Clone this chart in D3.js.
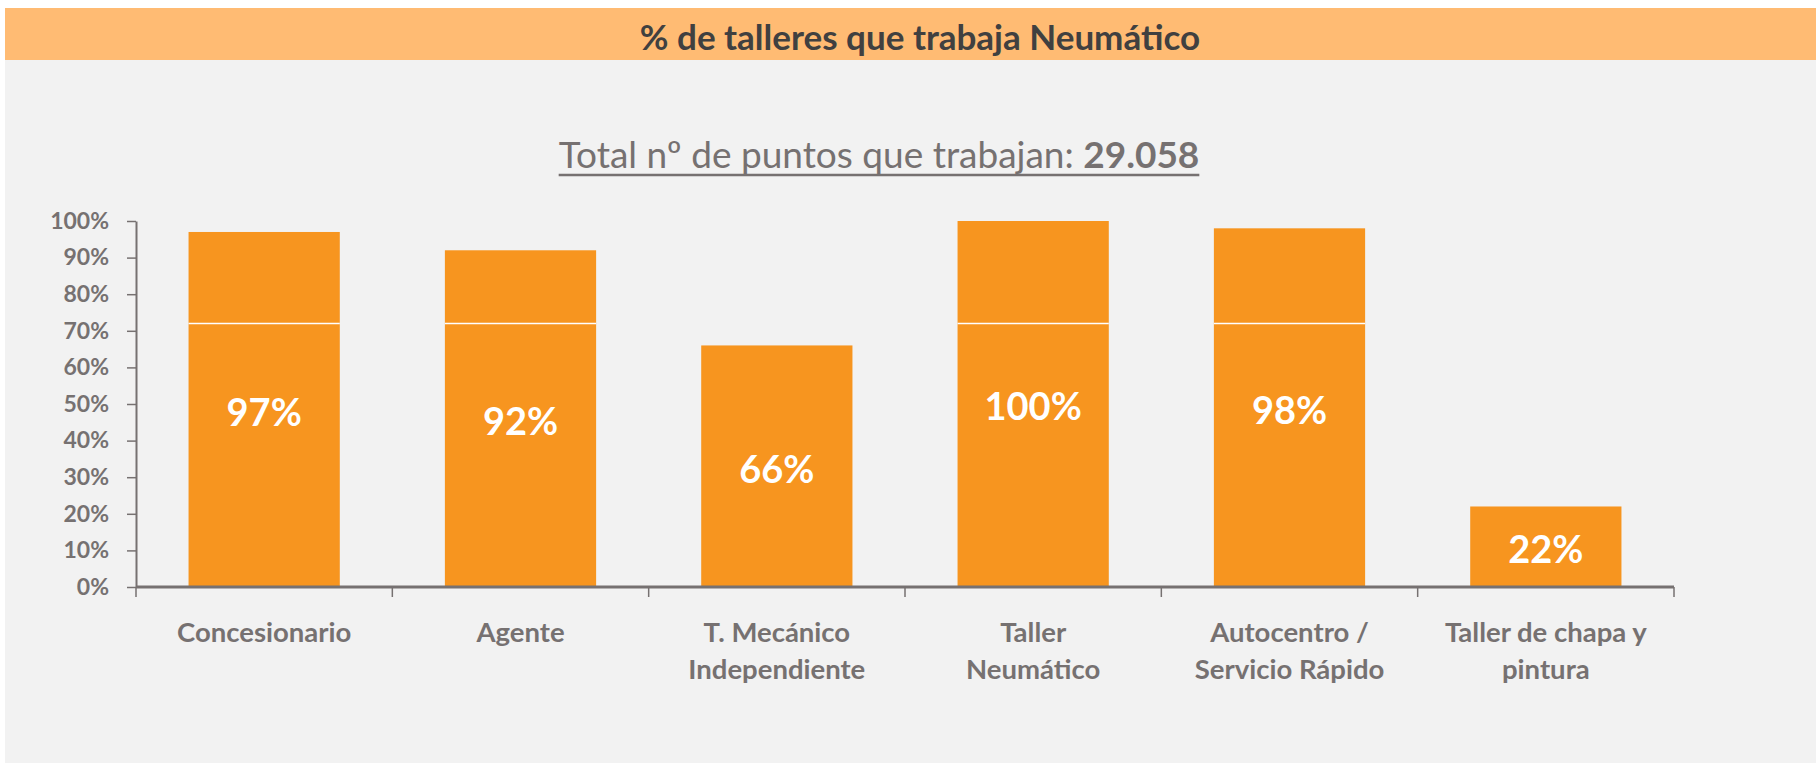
<!DOCTYPE html>
<html>
<head>
<meta charset="utf-8">
<script src="https://cdn.jsdelivr.net/npm/d3@7"></script>
<style>
  html, body { margin: 0; padding: 0; background: #ffffff; }
  svg { display: block; }
</style>
</head>
<body>
<svg id="chart" width="1816" height="763"></svg>
<script>
// data
var categories = ['Concesionario', 'Agente', 'T. Mecánico Independiente', 'Taller Neumático', 'Autocentro / Servicio Rápido', 'Taller de chapa y pintura'];
var categoryLines = [['Concesionario'], ['Agente'], ['T. Mecánico', 'Independiente'], ['Taller', 'Neumático'], ['Autocentro /', 'Servicio Rápido'], ['Taller de chapa y', 'pintura']];
var values = [97, 92, 66, 100, 98, 22];
var yTicks = [0, 10, 20, 30, 40, 50, 60, 70, 80, 90, 100];
var splitLevel = 72;
var title = '% de talleres que trabaja Neumático';
var subtitleText = 'Total nº de puntos que trabajan: ';
var subtitleNumber = '29.058';

var font = 'Lato, "Open Sans", sans-serif';
var grey = '#767171';
var orange = '#F7951F';

var svg = d3.select('#chart');

// panel + header band
svg.append('rect')
  .attr('x', 5).attr('y', 60).attr('width', 1811).attr('height', 703)
  .attr('fill', '#F2F2F2');
svg.append('rect')
  .attr('x', 5).attr('y', 8).attr('width', 1811).attr('height', 52)
  .attr('fill', '#FFBB73');

svg.append('text')
  .attr('x', 920).attr('y', 50)
  .attr('text-anchor', 'middle')
  .attr('font-family', font)
  .attr('font-weight', 'bold')
  .attr('font-size', 35)
  .attr('fill', '#404040')
  .text(title);

// subtitle with underline
var sub = svg.append('text')
  .attr('x', 879).attr('y', 168)
  .attr('text-anchor', 'middle')
  .attr('font-family', font)
  .attr('font-size', 37)
  .attr('fill', grey);
sub.append('tspan').text(subtitleText);
sub.append('tspan').attr('font-weight', 'bold').text(subtitleNumber);
var sb = sub.node().getBBox();
svg.append('line')
  .attr('x1', sb.x).attr('x2', sb.x + sb.width)
  .attr('y1', 175).attr('y2', 175)
  .attr('stroke', grey).attr('stroke-width', 2.5);

// scales
var x = d3.scaleBand().domain(categories).range([136, 1674]).padding(0);
var y = d3.scaleLinear().domain([0, 100]).range([587, 221]);
var barW = x.bandwidth() * 0.59;

// y axis
var yAxis = svg.append('g')
  .attr('transform', 'translate(136,0)')
  .call(d3.axisLeft(y).tickValues(yTicks).tickFormat(function (d) { return d + '%'; })
    .tickSize(9).tickSizeOuter(0).tickPadding(18));
yAxis.select('.domain').attr('stroke', grey).attr('stroke-width', 2);
yAxis.selectAll('.tick line').attr('stroke', grey).attr('stroke-width', 1.5);
yAxis.selectAll('.tick text')
  .attr('font-family', font).attr('font-weight', 'bold').attr('font-size', 23)
  .attr('fill', grey);

// bars
var bars = svg.append('g');
bars.selectAll('rect')
  .data(values)
  .join('rect')
  .attr('x', function (d, i) { return x(categories[i]) + (x.bandwidth() - barW) / 2; })
  .attr('y', function (d) { return y(d); })
  .attr('width', barW)
  .attr('height', function (d) { return y(0) - y(d); })
  .attr('fill', orange);

// white split line inside tall bars
bars.selectAll('line')
  .data(values.map(function (d, i) { return { v: d, c: categories[i] }; }).filter(function (d) { return d.v > splitLevel; }))
  .join('line')
  .attr('x1', function (d) { return x(d.c) + (x.bandwidth() - barW) / 2; })
  .attr('x2', function (d) { return x(d.c) + (x.bandwidth() + barW) / 2; })
  .attr('y1', y(splitLevel)).attr('y2', y(splitLevel))
  .attr('stroke', '#ffffff').attr('stroke-width', 1.5);

// value labels
bars.selectAll('text')
  .data(values)
  .join('text')
  .attr('x', function (d, i) { return x(categories[i]) + x.bandwidth() / 2; })
  .attr('y', function (d) { return y(d / 2) + 3; })
  .attr('dy', '0.35em')
  .attr('text-anchor', 'middle')
  .attr('font-family', font).attr('font-weight', 'bold').attr('font-size', 38)
  .attr('fill', '#ffffff')
  .text(function (d) { return d + '%'; });

// x axis line + boundary ticks
var bounds = categories.map(function (c) { return x(c); }).concat([x(categories[categories.length - 1]) + x.bandwidth()]);
var xAxis = svg.append('g');
xAxis.append('line')
  .attr('x1', 136).attr('x2', bounds[bounds.length - 1])
  .attr('y1', y(0)).attr('y2', y(0))
  .attr('stroke', grey).attr('stroke-width', 3);
xAxis.selectAll('line.tk')
  .data(bounds)
  .join('line').attr('class', 'tk')
  .attr('x1', function (d) { return d; }).attr('x2', function (d) { return d; })
  .attr('y1', y(0)).attr('y2', y(0) + 10)
  .attr('stroke', grey).attr('stroke-width', 1.5);

// category labels
var lbl = xAxis.selectAll('text.cat')
  .data(categoryLines)
  .join('text').attr('class', 'cat')
  .attr('text-anchor', 'middle')
  .attr('font-family', font).attr('font-weight', 'bold').attr('font-size', 27.5)
  .attr('fill', grey);
lbl.each(function (lines, i) {
  var t = d3.select(this);
  lines.forEach(function (s, j) {
    t.append('tspan')
      .attr('x', x(categories[i]) + x.bandwidth() / 2)
      .attr('y', 642 + j * 37)
      .text(s);
  });
});
</script>
</body>
</html>
